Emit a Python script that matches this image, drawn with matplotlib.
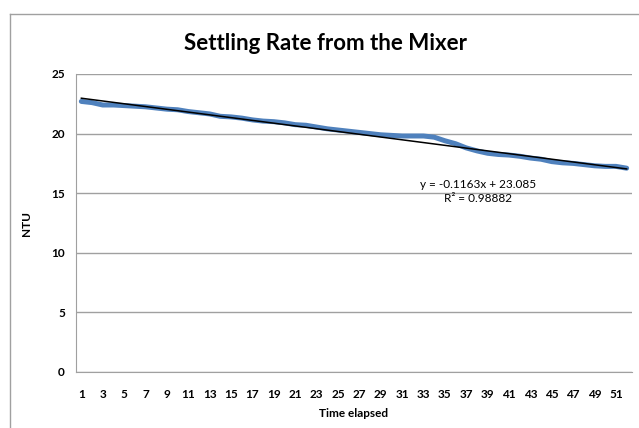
import matplotlib.pyplot as plt
import numpy as np

plt.rcParams['font.family'] = ['Lato', 'DejaVu Sans']

time = np.arange(1, 53)
ntu = [22.7, 22.6, 22.4, 22.4, 22.35, 22.3, 22.25, 22.15, 22.05, 22.0,
       21.85, 21.75, 21.65, 21.45, 21.4, 21.3, 21.15, 21.05, 21.0, 20.9,
       20.75, 20.7, 20.55, 20.4, 20.3, 20.2, 20.1, 20.0, 19.9, 19.85,
       19.8, 19.8, 19.8, 19.7, 19.4, 19.15, 18.8, 18.55, 18.35, 18.25,
       18.2, 18.1, 17.95, 17.85, 17.65, 17.55, 17.5, 17.4, 17.3, 17.25,
       17.25, 17.1]
slope = -0.1163
intercept = 23.085
r2 = 0.98882
yticks = [0, 5, 10, 15, 20, 25]
xticks = list(range(1, 53, 2))

fig = plt.figure(figsize=(6.39, 4.28), dpi=100)

# chart area border (excel screenshot)
fig.add_artist(plt.Line2D([10/639, 1], [1-14/428, 1-14/428], color='#a0a0a0', lw=1))
fig.add_artist(plt.Line2D([10/639, 10/639], [0, 1-14/428], color='#a0a0a0', lw=1))

ax = fig.add_axes([76/639, 1-372/428, 556/639, 298/428])
ax.plot(time, ntu, color='#4f81bd', lw=3.6, solid_capstyle='round', zorder=2)
trend = slope * time + intercept
ax.plot(time, trend, color='black', lw=1.1, zorder=3)

ax.set_xlim(0.5, 52.5)
ax.set_ylim(0, 25)
ax.set_yticks(yticks)
ax.set_xticks(xticks)
ax.tick_params(axis='y', length=0, labelsize=8.5, pad=8)
ax.tick_params(axis='x', length=0, labelsize=8.5, pad=12)
for lbl in ax.get_xticklabels() + ax.get_yticklabels():
    lbl.set_fontweight('bold')
ax.grid(axis='y', color='#a0a0a0', lw=1)
ax.set_axisbelow(True)
for s in ['top', 'right']:
    ax.spines[s].set_visible(False)
for s in ['left', 'bottom']:
    ax.spines[s].set_color('#a0a0a0')
ax.set_ylabel('NTU', fontsize=8.5, fontweight='bold', labelpad=14)
ax.set_xlabel('Time elapsed', fontsize=8.5, fontweight='bold', labelpad=6)

fig.text(325/639, 1-44/428, 'Settling Rate from the Mixer', fontsize=16,
         fontweight='bold', ha='center', va='center')
fig.text(478/639, 1-185/428, 'y = -0.1163x + 23.085', fontsize=8.5, ha='center', va='center')
fig.text(478/639, 1-199/428, 'R² = 0.98882', fontsize=8.5, ha='center', va='center')

plt.savefig('out.png', dpi=100)
